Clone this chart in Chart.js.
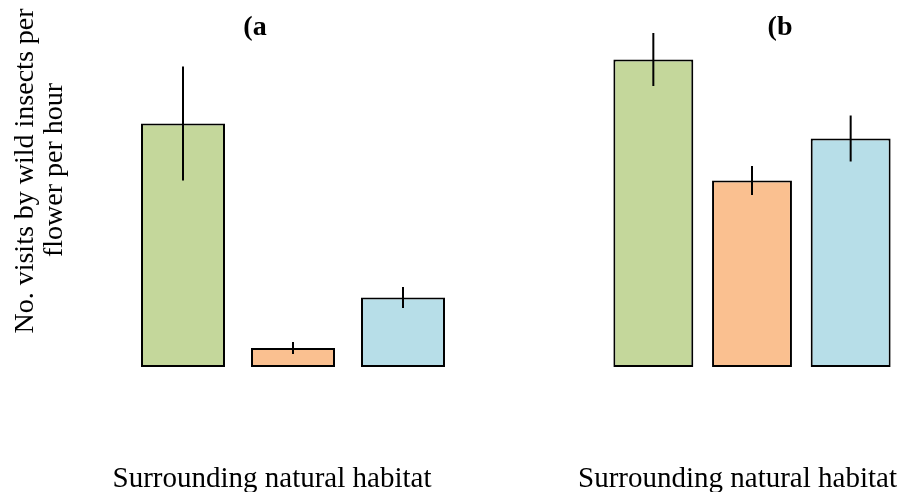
<!DOCTYPE html>
<html>
<head>
<meta charset="utf-8">
<script src="https://cdn.jsdelivr.net/npm/chart.js@4.4.1/dist/chart.umd.min.js"></script>
<style>
  html, body { margin: 0; padding: 0; background: #fff; overflow: hidden; }
  canvas { position: absolute; top: 0; }
  #visits { left: 0; }
  #fruit { left: 450px; }
</style>
</head>
<body>
<canvas id="visits" width="460" height="492"></canvas>
<canvas id="fruit" width="451" height="492"></canvas>
<script>
const habitats = ['High', 'Low', 'Medium'];
const barColors = ['#C4D79B', '#FAC090', '#B7DEE8'];

// panel (a): visits per flower per hour, mean and SE
const visits = [0.812, 0.063, 0.232];
const visitsErr = [0.19, 0.02, 0.035];

// panel (b): percent fruit set, mean and SE
const fruitSet = [61.5, 37.3, 45.7];
const fruitErr = [5.3, 2.9, 4.6];

const serif = '"Liberation Serif", "Times New Roman", serif';

// vertical error lines on top of each bar
const errorBars = {
    id: 'errorBars',
    afterDatasetsDraw(chart, args, opts) {
        const ctx = chart.ctx;
        const y = chart.scales.y;
        const meta = chart.getDatasetMeta(0);
        const vals = chart.data.datasets[0].data;
        ctx.save();
        ctx.strokeStyle = '#000';
        ctx.lineWidth = 2;
        meta.data.forEach((bar, i) => {
            const e = opts.errors[i];
            ctx.beginPath();
            ctx.moveTo(bar.x, y.getPixelForValue(vals[i] + e));
            ctx.lineTo(bar.x, y.getPixelForValue(vals[i] - e));
            ctx.stroke();
        });
        ctx.restore();
    }
};

// free text (panel letter, axis titles)
const panelText = {
    id: 'panelText',
    afterDraw(chart, args, opts) {
        const ctx = chart.ctx;
        opts.items.forEach(it => {
            ctx.save();
            ctx.font = it.font;
            ctx.fillStyle = '#000';
            ctx.textAlign = 'center';
            ctx.textBaseline = 'alphabetic';
            ctx.translate(it.x, it.y);
            if (it.rotate) ctx.rotate(-Math.PI / 2);
            ctx.fillText(it.text, 0, 0);
            ctx.restore();
        });
    }
};

function makeChart(id, values, errors, max, barPct, padding, items) {
    return new Chart(document.getElementById(id), {
        type: 'bar',
        data: {
            labels: habitats,
            datasets: [{
                data: values,
                backgroundColor: barColors,
                borderColor: '#000',
                borderWidth: 2,
                borderSkipped: false,
                barPercentage: barPct,
                categoryPercentage: 1
            }]
        },
        options: {
            responsive: false,
            animation: false,
            layout: { padding: padding },
            scales: {
                x: { display: false },
                y: { display: false, min: 0, max: max }
            },
            plugins: {
                legend: { display: false },
                tooltip: { enabled: false },
                errorBars: { errors: errors },
                panelText: { items: items }
            }
        },
        plugins: [errorBars, panelText]
    });
}

makeChart('visits', visits, visitsErr, 1.2, 0.7636,
    { left: 128, right: 2, top: 7, bottom: 125 },
    [
        { text: '(a', x: 255, y: 35, font: 'bold 28px ' + serif },
        { text: 'Surrounding natural habitat', x: 272, y: 487, font: '29px ' + serif },
        { text: 'No. visits by wild insects per', x: 33, y: 171, rotate: true, font: '28px ' + serif },
        { text: 'flower per hour', x: 62, y: 170, rotate: true, font: '28px ' + serif }
    ]);

makeChart('fruit', fruitSet, fruitErr, 70, 0.81,
    { left: 154, right: 1, top: 17, bottom: 125 },
    [
        { text: '(b', x: 330, y: 35, font: 'bold 28px ' + serif },
        { text: 'Surrounding natural habitat', x: 287.5, y: 487, font: '29px ' + serif },
        { text: 'Percent fruit set', x: 521, y: 184, rotate: true, font: '28px ' + serif }
    ]);
</script>
</body>
</html>
